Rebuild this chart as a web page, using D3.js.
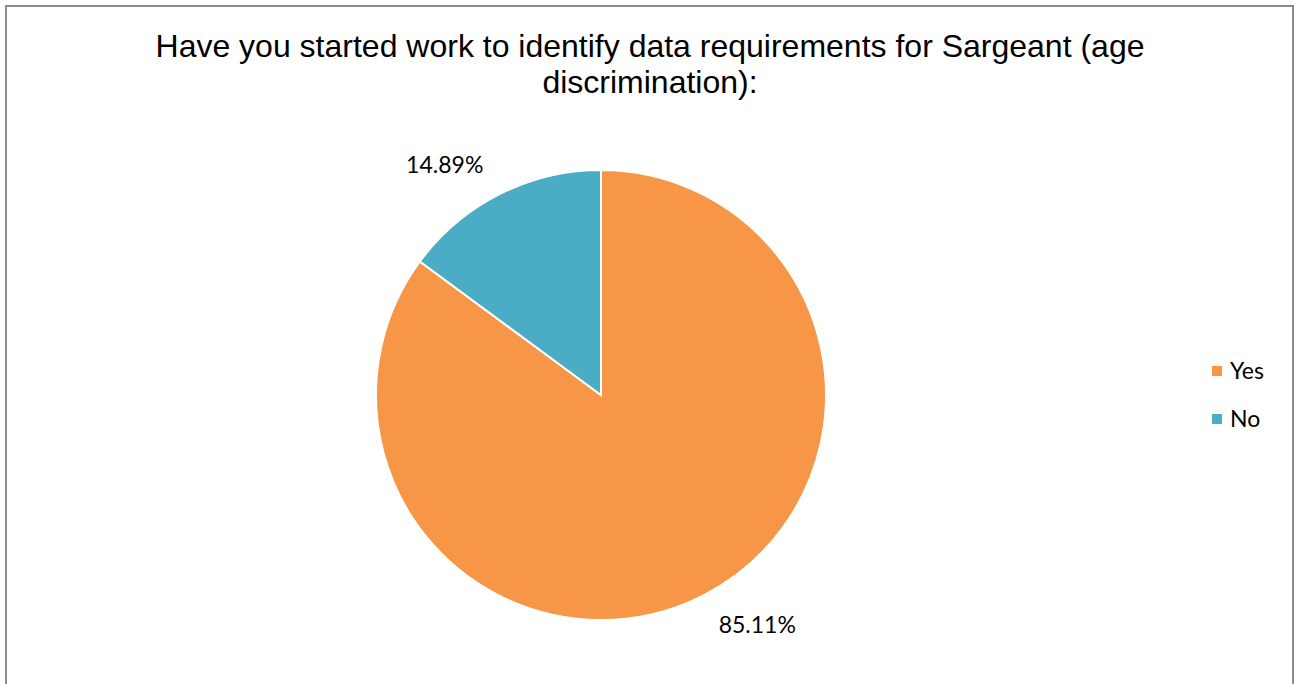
<!DOCTYPE html>
<html><head><meta charset="utf-8">
<script src="https://cdn.jsdelivr.net/npm/d3@7"></script>
<style>body{margin:0;background:#fff}svg{display:block}</style>
</head><body>
<svg id="c" width="1294" height="684"></svg>
<script>
const categories = ["Yes", "No"];
const values = [85.11, 14.89];
const labels = ["85.11%", "14.89%"];
const colors = ["#F79646", "#4BACC6"];
const titleLines = ["Have you started work to identify data requirements for Sargeant (age", "discrimination):"];

const svg = d3.select("#c");
svg.append("rect").attr("x", 6).attr("y", 6).attr("width", 1287).attr("height", 700)
  .attr("fill", "#fff").attr("stroke", "#8c8c8c").attr("stroke-width", 2);

svg.append("g").selectAll("text").data(titleLines).join("text")
  .attr("x", 650).attr("y", (d, i) => 57 + i * 36)
  .attr("text-anchor", "middle")
  .attr("font-family", "Liberation Sans, Arial, sans-serif")
  .attr("font-size", 32).attr("fill", "#000").text(d => d);

const cx = 601, cy = 395, r = 225;
const data = categories.map((c, i) => ({cat: c, value: values[i], label: labels[i], color: colors[i]}));
const pie = d3.pie().value(d => d.value).sort(null);
const arc = d3.arc().innerRadius(0).outerRadius(r);
const arcs = pie(data);
const g = svg.append("g").attr("transform", `translate(${cx},${cy})`);
g.selectAll("path").data(arcs).join("path")
  .attr("d", arc).attr("fill", d => d.data.color)
  .attr("stroke", "#fff").attr("stroke-width", 2);

const labelR = 278, rot = -7.4 * Math.PI / 180;
g.selectAll("text.lbl").data(arcs).join("text").attr("class", "lbl")
  .attr("transform", d => {
    const a = (d.startAngle + d.endAngle) / 2 + rot;
    return `translate(${labelR * Math.sin(a)},${-labelR * Math.cos(a)})`;
  })
  .attr("text-anchor", "middle").attr("dy", "0.35em")
  .attr("font-family", "Lato, Open Sans, sans-serif").attr("font-size", 23).attr("fill", "#000")
  .text(d => d.data.label);

const leg = svg.append("g");
data.forEach((d, i) => {
  const y = 371 + i * 48;
  leg.append("rect").attr("x", 1212).attr("y", y - 5).attr("width", 10).attr("height", 10).attr("fill", d.color);
  leg.append("text").attr("x", 1230).attr("y", y).attr("dy", "0.35em")
    .attr("font-family", "Lato, Open Sans, sans-serif").attr("font-size", 23).attr("fill", "#000").text(d.cat);
});
</script>
</body></html>
